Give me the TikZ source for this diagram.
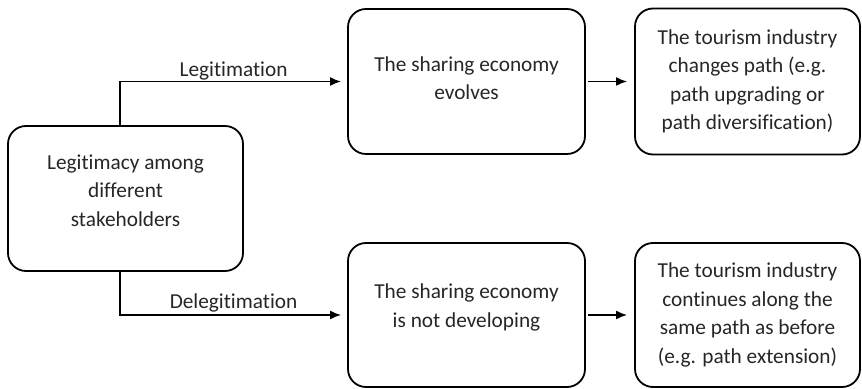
\documentclass[tikz,border=0pt]{standalone}
\usepackage{fontspec}
\setmainfont{Carlito}[Ligatures=NoCommon]
\usetikzlibrary{arrows.meta}
\tikzset{
	stage/.style={draw=black, line width=0.9pt, rounded corners=9pt, align=center,
		font=\fontsize{10.65}{14.25}\selectfont, text=black!85, inner sep=0pt},
	lift/.style={text depth=#1},
	flow/.style={line width=0.9pt, -{Latex[length=5.5pt,width=4.5pt]}},
	tag/.style={font=\fontsize{10.65}{14.25}\selectfont, text=black!85, inner sep=0pt},
}

\begin{document}
\begin{tikzpicture}[x=0.5pt, y=-0.5pt]
			%%%%% START %%%%%
			
			\useasboundingbox (0, 0) rectangle (862, 389);
			
			\node[stage, lift=8pt, minimum width=117.5pt, minimum height=72.5pt] (legit) at (125.5, 198.5)
				{Legitimacy among\\different\\stakeholders};
			
			\node[stage, lift=3.5pt, minimum width=118.5pt, minimum height=72.5pt] (evolve) at (466.5, 81.5)
				{The sharing economy\\evolves};
			\node[stage, minimum width=112.5pt, minimum height=73pt] (change) at (747.5, 81.5)
				{The tourism industry\\changes path (e.g.\\path upgrading or\\path diversification)};
			
			\node[stage, lift=9.5pt, minimum width=118.5pt, minimum height=72pt] (stall) at (466.5, 315)
				{The sharing economy\\is not developing};
			\node[stage, minimum width=112.5pt, minimum height=72pt] (remain) at (747.5, 315)
				{The tourism industry\\continues along the\\same path as before\\(e.g. path extension)};
			
			\draw[flow, shorten >=3pt] ([xshift=-2.75pt]legit.north) |- node[tag, pos=0.75, above=0.4pt] {Legitimation} (evolve.west);
			\draw[flow, shorten >=3pt] ([xshift=-2.75pt]legit.south) |- node[tag, pos=0.75, above=0.8pt] {Delegitimation} (stall.west);
			
			\draw[flow, shorten <=1pt, shorten >=3.5pt] (evolve) -- (change);
			\draw[flow, shorten <=1pt, shorten >=3.5pt] (stall) -- (remain);
			
			%%%%% END %%%%%
		\end{tikzpicture}
\end{document}
